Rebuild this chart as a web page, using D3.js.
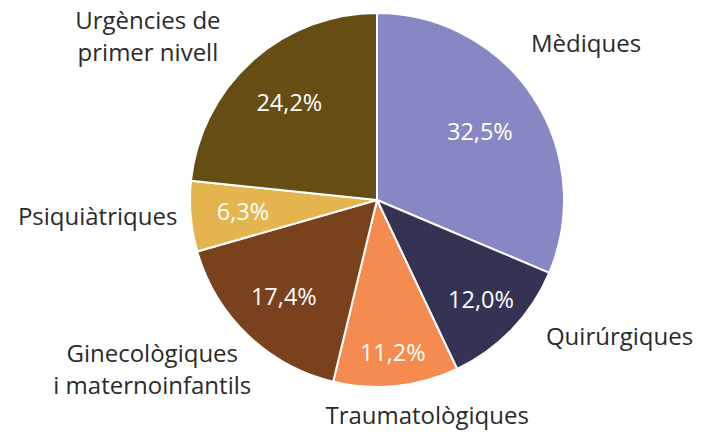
<!DOCTYPE html>
<html lang="ca">
<head>
  <meta charset="UTF-8" />
  <title>Urgències per tipus</title>
  <script src="https://d3js.org/d3.v7.min.js"></script>
  <style>
    body { margin: 0; background: #fff; }
    svg text { font-family: "Open Sans", sans-serif; }
    .cat { fill: #2a2a2a; font-size: 24px; }
    .pct { fill: #fff; font-size: 23.5px; }
  </style>
</head>
<body>
  <div id="chart"></div>
  <script>
    // data
    const categories = ["Mèdiques", "Quirúrgiques", "Traumatològiques", "Ginecològiques|i maternoinfantils", "Psiquiàtriques", "Urgències de|primer nivell"];
    const shares = [32.5, 12.0, 11.2, 17.4, 6.3, 24.2];
    const colors = ["#8788c3", "#353354", "#f58b4f", "#7a411d", "#e4b44f", "#654d14"];

    // layout (relative to the pie radius)
    const pctRadius = [0.66, 0.77, 0.82, 0.72, 0.72, 0.70];
    const catAngle = [54.7, 120.8, 167.4, 234.3, 264.9, 306.8];
    const catRadius = [1.37, 1.51, 1.23, 1.48, 1.50, 1.53];

    const width = 702, height = 436;
    const cx = 377, cy = 200, r = 187;

    const svg = d3.select("#chart").append("svg")
      .attr("width", width)
      .attr("height", height);
    const g = svg.append("g").attr("transform", `translate(${cx},${cy})`);

    const data = categories.map((c, i) => ({ cat: c, value: shares[i], i }));
    const pie = d3.pie().sort(null).value(d => d.value);
    const arc = d3.arc().innerRadius(0).outerRadius(r);
    const arcs = pie(data);

    g.selectAll("path.slice")
      .data(arcs)
      .enter()
      .append("path")
      .attr("class", "slice")
      .attr("d", arc)
      .attr("fill", d => colors[d.data.i])
      .attr("stroke", "#fff")
      .attr("stroke-width", 2)
      .attr("stroke-linejoin", "round");

    const fmt = v => d3.format(".1f")(v).replace(".", ",") + "%";

    g.selectAll("text.pct")
      .data(arcs)
      .enter()
      .append("text")
      .attr("class", "pct")
      .attr("text-anchor", "middle")
      .attr("dy", "0.35em")
      .attr("transform", d => {
        const a = (d.startAngle + d.endAngle) / 2;
        const rr = r * pctRadius[d.data.i];
        return `translate(${rr * Math.sin(a)},${-rr * Math.cos(a)})`;
      })
      .text(d => fmt(d.data.value));

    const cats = g.selectAll("text.cat")
      .data(data)
      .enter()
      .append("text")
      .attr("class", "cat")
      .attr("text-anchor", "middle")
      .attr("transform", d => {
        const a = catAngle[d.i] * Math.PI / 180;
        const rr = r * catRadius[d.i];
        return `translate(${rr * Math.sin(a)},${-rr * Math.cos(a)})`;
      });

    cats.each(function(d) {
      const lines = d.cat.split("|");
      const t = d3.select(this);
      lines.forEach((ln, k) => {
        t.append("tspan").attr("x", 0).attr("y", k * 32).text(ln);
      });
    });
  </script>
</body>
</html>
